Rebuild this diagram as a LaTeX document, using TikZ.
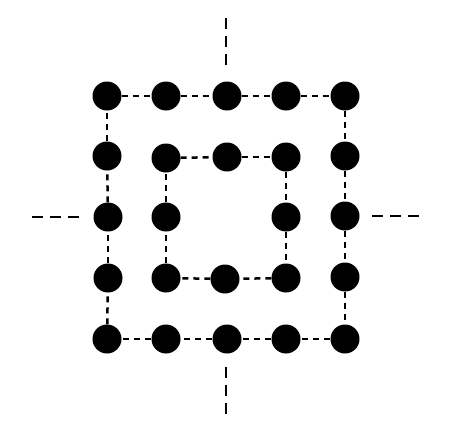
\documentclass[tikz,border=0pt]{standalone}
\begin{document}
\begin{tikzpicture}[x=1pt,y=-1pt,
  dot/.style={circle,fill=black,minimum size=29pt,inner sep=0pt},
  link/.style={line width=2.5pt,dash pattern=on 6pt off 5pt},
  tick/.style={line width=2.5pt,dash pattern=on 11pt off 7pt}]
\useasboundingbox (0,0) rectangle (450,434);
% outer ring
\node[dot] (o11) at (107,96) {};
\node[dot] (o12) at (166,96) {};
\node[dot] (o13) at (227,96) {};
\node[dot] (o14) at (286,96) {};
\node[dot] (o15) at (345,96) {};
\node[dot] (o25) at (345,156) {};
\node[dot] (o35) at (345,216) {};
\node[dot] (o45) at (345,277) {};
\node[dot] (o55) at (345,339) {};
\node[dot] (o54) at (286,339) {};
\node[dot] (o53) at (227,339) {};
\node[dot] (o52) at (166,339) {};
\node[dot] (o51) at (107,339) {};
\node[dot] (o41) at (108,278) {};
\node[dot] (o31) at (108,217) {};
\node[dot] (o21) at (107,156) {};
% inner ring
\node[dot] (i11) at (166,158) {};
\node[dot] (i12) at (227,157) {};
\node[dot] (i13) at (286,157) {};
\node[dot] (i23) at (286,217) {};
\node[dot] (i33) at (286,278) {};
\node[dot] (i32) at (225,279) {};
\node[dot] (i31) at (166,278) {};
\node[dot] (i21) at (166,217) {};
% outer links
\draw[link] (o11) -- (o12);
\draw[link] (o12) -- (o13);
\draw[link] (o13) -- (o14);
\draw[link] (o14) -- (o15);
\draw[link] (o15) -- (o25);
\draw[link] (o25) -- (o35);
\draw[link] (o35) -- (o45);
\draw[link] (o45) -- (o55);
\draw[link] (o55) -- (o54);
\draw[link] (o54) -- (o53);
\draw[link] (o53) -- (o52);
\draw[link] (o52) -- (o51);
\draw[link] (o51) -- (o41);
\draw[link] (o41) -- (o31);
\draw[link] (o31) -- (o21);
\draw[link] (o21) -- (o11);
% inner links
\draw[link] (i11) -- (i12);
\draw[link] (i12) -- (i13);
\draw[link] (i13) -- (i23);
\draw[link] (i23) -- (i33);
\draw[link] (i33) -- (i32);
\draw[link] (i32) -- (i31);
\draw[link] (i31) -- (i21);
\draw[link] (i21) -- (i11);
% ticks
\coordinate (t1) at (226,18);
\coordinate (t2) at (226,66);
\coordinate (b1) at (226,367);
\coordinate (b2) at (226,415);
\coordinate (l1) at (32,217);
\coordinate (l2) at (80,217);
\coordinate (r1) at (372,216);
\coordinate (r2) at (420,216);
\draw[tick] (t1) -- (t2);
\draw[tick] (b1) -- (b2);
\draw[tick] (l1) -- (l2);
\draw[tick] (r1) -- (r2);
\end{tikzpicture}
\end{document}
